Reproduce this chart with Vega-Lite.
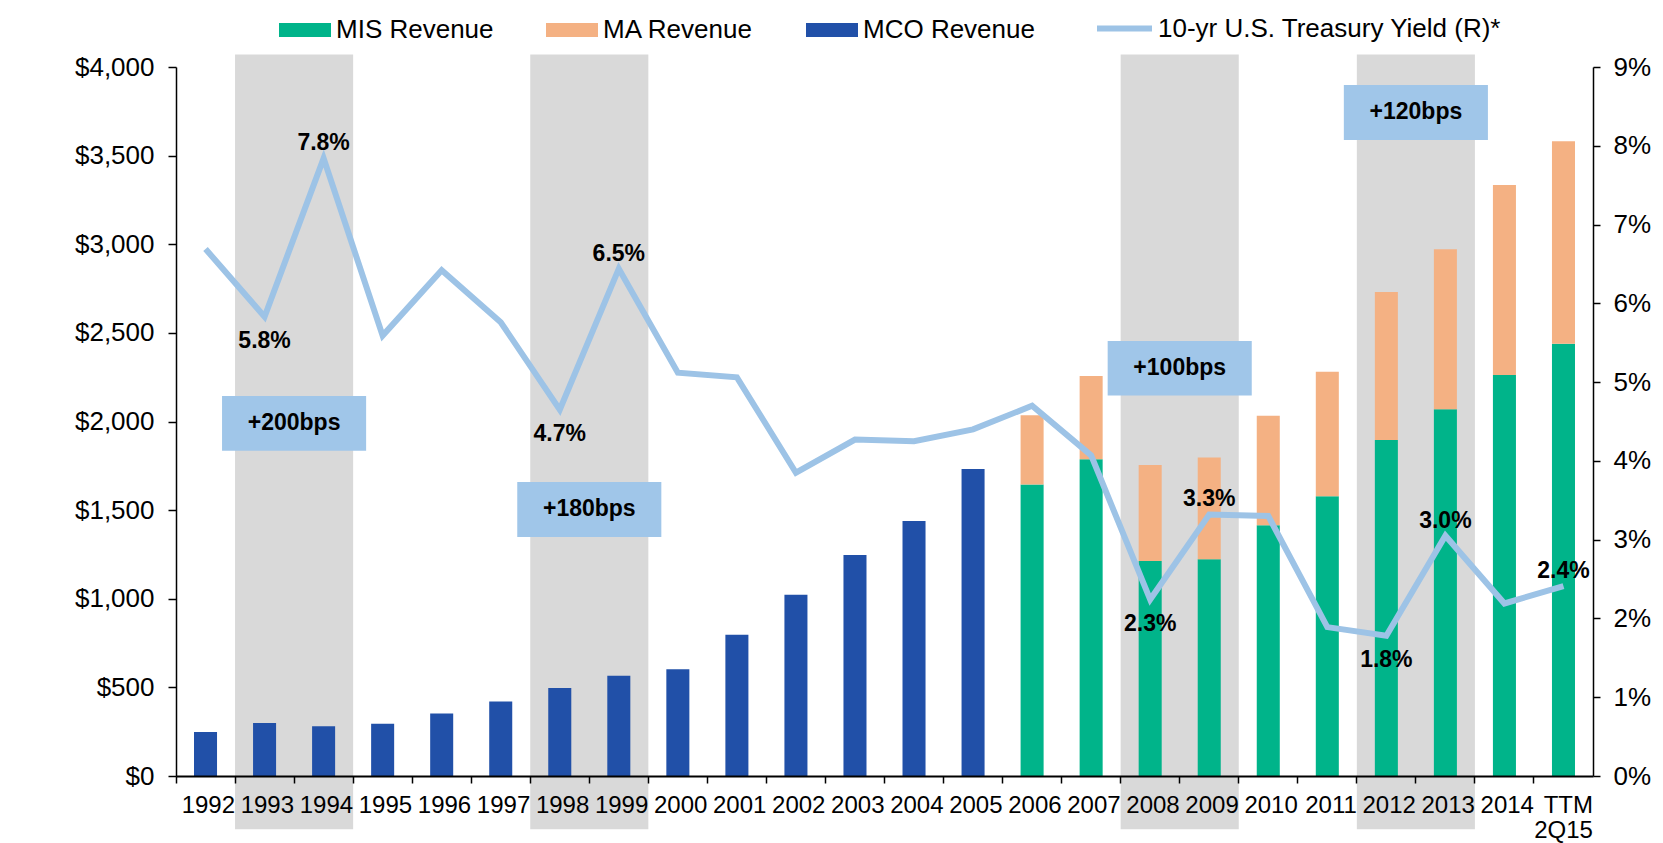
{
  "$schema": "https://vega.github.io/schema/vega-lite/v6.json",
  "width": 1417,
  "height": 709,
  "autosize": {"type": "none"},
  "padding": {"left": 176, "top": 67, "right": 70, "bottom": 67},
  "background": "white",
  "config": {
    "font": "Liberation Sans",
    "view": {"stroke": null},
    "axis": {"labelColor": "black", "tickColor": "black", "domainColor": "black", "titleColor": "black", "labelFont": "Liberation Sans", "titleFont": "Liberation Sans"},
    "legend": {"labelFont": "Liberation Sans", "labelColor": "black"}
  },
  "datasets": {
    "rev": [
      {"year": "1992", "series": "MCO Revenue", "value": 248},
      {"year": "1993", "series": "MCO Revenue", "value": 299},
      {"year": "1994", "series": "MCO Revenue", "value": 280},
      {"year": "1995", "series": "MCO Revenue", "value": 295},
      {"year": "1996", "series": "MCO Revenue", "value": 352},
      {"year": "1997", "series": "MCO Revenue", "value": 421},
      {"year": "1998", "series": "MCO Revenue", "value": 497},
      {"year": "1999", "series": "MCO Revenue", "value": 565},
      {"year": "2000", "series": "MCO Revenue", "value": 602},
      {"year": "2001", "series": "MCO Revenue", "value": 797},
      {"year": "2002", "series": "MCO Revenue", "value": 1023},
      {"year": "2003", "series": "MCO Revenue", "value": 1247},
      {"year": "2004", "series": "MCO Revenue", "value": 1438},
      {"year": "2005", "series": "MCO Revenue", "value": 1732},
      {"year": "2006", "series": "MIS Revenue", "value": 1644},
      {"year": "2006", "series": "MA Revenue", "value": 391},
      {"year": "2007", "series": "MIS Revenue", "value": 1787},
      {"year": "2007", "series": "MA Revenue", "value": 470},
      {"year": "2008", "series": "MIS Revenue", "value": 1213},
      {"year": "2008", "series": "MA Revenue", "value": 542},
      {"year": "2009", "series": "MIS Revenue", "value": 1223},
      {"year": "2009", "series": "MA Revenue", "value": 574},
      {"year": "2010", "series": "MIS Revenue", "value": 1414},
      {"year": "2010", "series": "MA Revenue", "value": 618},
      {"year": "2011", "series": "MIS Revenue", "value": 1578},
      {"year": "2011", "series": "MA Revenue", "value": 702},
      {"year": "2012", "series": "MIS Revenue", "value": 1896},
      {"year": "2012", "series": "MA Revenue", "value": 834},
      {"year": "2013", "series": "MIS Revenue", "value": 2069},
      {"year": "2013", "series": "MA Revenue", "value": 903},
      {"year": "2014", "series": "MIS Revenue", "value": 2262},
      {"year": "2014", "series": "MA Revenue", "value": 1072},
      {"year": "TTM 2Q15", "series": "MIS Revenue", "value": 2438},
      {"year": "TTM 2Q15", "series": "MA Revenue", "value": 1143}
    ],
    "yld": [
      {"year": "1992", "yield": 0.0669},
      {"year": "1993", "yield": 0.0583, "label": "5.8%"},
      {"year": "1994", "yield": 0.0784, "label": "7.8%"},
      {"year": "1995", "yield": 0.0559},
      {"year": "1996", "yield": 0.0642},
      {"year": "1997", "yield": 0.0576},
      {"year": "1998", "yield": 0.0465, "label": "4.7%"},
      {"year": "1999", "yield": 0.0644, "label": "6.5%"},
      {"year": "2000", "yield": 0.0512},
      {"year": "2001", "yield": 0.0506},
      {"year": "2002", "yield": 0.0385},
      {"year": "2003", "yield": 0.0427},
      {"year": "2004", "yield": 0.0425},
      {"year": "2005", "yield": 0.0440},
      {"year": "2006", "yield": 0.0470},
      {"year": "2007", "yield": 0.0407},
      {"year": "2008", "yield": 0.0224, "label": "2.3%"},
      {"year": "2009", "yield": 0.0332, "label": "3.3%"},
      {"year": "2010", "yield": 0.0330},
      {"year": "2011", "yield": 0.0189},
      {"year": "2012", "yield": 0.0178, "label": "1.8%"},
      {"year": "2013", "yield": 0.0305, "label": "3.0%"},
      {"year": "2014", "yield": 0.0219},
      {"year": "TTM 2Q15", "yield": 0.0241, "label": "2.4%"}
    ],
    "shade": [
      {"start": "1993", "end": "1994"},
      {"start": "1998", "end": "1999"},
      {"start": "2008", "end": "2009"},
      {"start": "2012", "end": "2013"}
    ],
    "boxes": [
      {"start": "1993", "end": "1994", "text": "+200bps", "top": 2144, "bottom": 1835},
      {"start": "1998", "end": "1999", "text": "+180bps", "top": 1659, "bottom": 1348},
      {"start": "2008", "end": "2009", "text": "+100bps", "top": 2454, "bottom": 2146},
      {"start": "2012", "end": "2013", "text": "+120bps", "top": 3898, "bottom": 3588}
    ]
  },
  "layer": [
    {
      "layer": [
        {
          "data": {"name": "shade"},
          "mark": {"type": "rect", "color": "#D9D9D9", "clip": false},
          "encoding": {
            "x": {"field": "start", "type": "ordinal", "bandPosition": 0, "title": null},
            "x2": {"field": "end", "bandPosition": 1},
            "y": {"datum": 4070, "type": "quantitative", "title": null},
            "y2": {"datum": -300}
          }
        },
        {
          "data": {"name": "rev"},
          "mark": {"type": "bar", "width": {"band": 0.39}},
          "encoding": {
            "x": {
              "field": "year", "type": "ordinal", "title": null,
              "scale": {"type": "band", "paddingInner": 0, "paddingOuter": 0,
                "domain": ["1992","1993","1994","1995","1996","1997","1998","1999","2000","2001","2002","2003","2004","2005","2006","2007","2008","2009","2010","2011","2012","2013","2014","TTM 2Q15"]},
              "axis": {"bandPosition": 0, "labelOffset": 29.5, "labelAngle": 0, "labelExpr": "split(datum.label, ' ')", "labelFontSize": 24, "labelLineHeight": 25, "labelPadding": 10, "tickSize": 7, "tickWidth": 1.5, "domainWidth": 2, "zindex": 1, "labelBaseline": "top"}
            },
            "y": {
              "field": "value", "type": "quantitative", "stack": "zero",
              "scale": {"domain": [0, 4000], "nice": false},
              "axis": {"orient": "left", "values": [0,500,1000,1500,2000,2500,3000,3500,4000], "format": "$,.0f", "title": "$ Millions", "titleFontSize": 23, "titleFontWeight": "normal", "titleX": -138, "titleY": 326, "grid": false, "tickSize": 8, "tickWidth": 1.5, "domainWidth": 1.5, "labelFontSize": 26, "labelPadding": 14, "zindex": 1}
            },
            "fill": {
              "field": "series", "type": "nominal",
              "scale": {"domain": ["MIS Revenue", "MA Revenue", "MCO Revenue"], "range": ["#00B48A", "#F4B183", "#2150A8"]},
              "legend": {"orient": "none", "legendX": 103, "legendY": -63, "direction": "horizontal", "title": null, "symbolType": "M-1,-0.27H1V0.27H-1Z", "symbolSize": 2704, "symbolStrokeWidth": 0, "symbolOpacity": 1, "labelFontSize": 26, "labelOffset": 5, "columnPadding": 52, "labelLimit": 400}
            },
            "order": {"field": "series", "sort": "descending"}
          }
        },
        {
          "data": {"name": "boxes"},
          "mark": {"type": "rect", "color": "#A0C6E9", "xOffset": -13, "x2Offset": 13},
          "encoding": {
            "x": {"field": "start", "type": "ordinal", "bandPosition": 0, "title": null},
            "x2": {"field": "end", "bandPosition": 1},
            "y": {"field": "top", "type": "quantitative", "title": null},
            "y2": {"field": "bottom"}
          }
        },
        {
          "data": {"name": "boxes"},
          "mark": {"type": "text", "fontSize": 23, "fontWeight": "bold", "color": "black", "baseline": "middle", "align": "center", "dy": 27},
          "encoding": {
            "x": {"field": "start", "type": "ordinal", "bandPosition": 1, "title": null},
            "y": {"field": "top", "type": "quantitative", "title": null},
            "text": {"field": "text"}
          }
        }
      ]
    },
    {
      "data": {"name": "yld"},
      "layer": [
        {
          "mark": {"type": "line", "strokeWidth": 6, "strokeJoin": "miter"},
          "encoding": {
            "x": {"field": "year", "type": "ordinal", "title": null},
            "y": {
              "field": "yield", "type": "quantitative",
              "scale": {"domain": [0, 0.09], "nice": false},
              "axis": {"orient": "right", "values": [0,0.01,0.02,0.03,0.04,0.05,0.06,0.07,0.08,0.09], "format": ".0%", "title": null, "grid": false, "tickSize": 7, "tickWidth": 1.5, "domainWidth": 1.5, "labelFontSize": 26, "labelPadding": 13, "zindex": 1}
            },
            "stroke": {
              "datum": "10-yr U.S. Treasury Yield (R)*", "type": "nominal",
              "scale": {"range": ["#9DC3E6"]},
              "legend": {"orient": "none", "legendX": 918, "legendY": -69, "title": null, "symbolType": "stroke", "symbolSize": 3025, "symbolStrokeWidth": 6, "labelFontSize": 26, "labelOffset": 3, "labelLimit": 500}
            }
          }
        },
        {
          "transform": [{"filter": {"field": "year", "oneOf": ["1994", "1999", "2009", "2013", "TTM 2Q15"]}}],
          "mark": {"type": "text", "fontSize": 23, "fontWeight": "bold", "color": "black", "align": "center", "baseline": "alphabetic", "dy": -8},
          "encoding": {
            "x": {"field": "year", "type": "ordinal", "title": null},
            "y": {"field": "yield", "type": "quantitative", "title": null},
            "text": {"field": "label"}
          }
        },
        {
          "transform": [{"filter": {"field": "year", "oneOf": ["1993", "1998", "2008", "2012"]}}],
          "mark": {"type": "text", "fontSize": 23, "fontWeight": "bold", "color": "black", "align": "center", "baseline": "top", "dy": 13},
          "encoding": {
            "x": {"field": "year", "type": "ordinal", "title": null},
            "y": {"field": "yield", "type": "quantitative", "title": null},
            "text": {"field": "label"}
          }
        }
      ]
    }
  ],
  "resolve": {"scale": {"y": "independent"}}
}
